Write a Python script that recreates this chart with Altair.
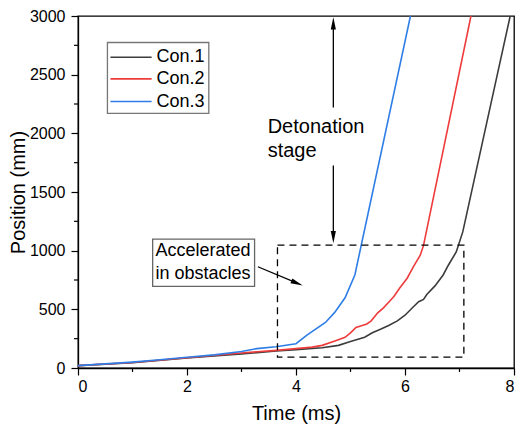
import altair as alt
import pandas as pd

# ---- data ----
series_names = ["Con.1", "Con.2", "Con.3"]
colors = ["#3c3c3c", "#ee3b3b", "#2f7ee6"]

con1_t = [0, 1, 2, 3, 3.64, 4.0, 4.48, 4.78, 5.0, 5.26, 5.4, 5.56, 5.7, 5.86, 6.0, 6.15, 6.25, 6.34, 6.4, 6.55, 6.7, 6.8, 6.94, 7.06, 7.93]
con1_y = [20, 45, 85, 120, 145, 157, 173, 193, 225, 262, 300, 332, 362, 402, 450, 520, 565, 584, 626, 700, 793, 880, 989, 1160, 3000]

con2_t = [0, 1, 2, 3, 3.64, 4.0, 4.3, 4.48, 4.7, 4.9, 5.0, 5.1, 5.2, 5.3, 5.38, 5.5, 5.6, 5.7, 5.8, 5.9, 6.04, 6.15, 6.28, 6.34, 7.21]
con2_y = [20, 47, 88, 128, 150, 165, 178, 193, 228, 262, 300, 345, 360, 375, 402, 470, 510, 560, 612, 680, 765, 860, 961, 1045, 3000]

con3_t = [0, 0.5, 1, 1.5, 2, 2.5, 3, 3.28, 3.63, 4.0, 4.2, 4.54, 4.71, 4.9, 5.08, 6.1]
con3_y = [20, 35, 50, 70, 92, 112, 140, 165, 181, 207, 280, 388, 474, 598, 793, 3000]

x_major = [0, 2, 4, 6, 8]
x_minor = [1, 3, 5, 7]
y_major = [0, 500, 1000, 1500, 2000, 2500, 3000]
y_minor = [250, 750, 1250, 1750, 2250, 2750]

FONT = "Liberation Sans"
W, H = 436, 352

rows = []
for name, ts, ys in zip(series_names, [con1_t, con2_t, con3_t], [con1_y, con2_y, con3_y]):
    for t, y in zip(ts, ys):
        rows.append({"t": t, "y": y, "series": name})
df = pd.DataFrame(rows)

xscale = alt.Scale(domain=[0, 8], nice=False, zero=False)
yscale = alt.Scale(domain=[0, 3000], nice=False)

lines = alt.Chart(df).mark_line(strokeWidth=1.6, clip=True).encode(
    x=alt.X("t:Q", scale=xscale,
            axis=alt.Axis(values=x_major, title="Time (ms)", tickSize=7, labelPadding=3,
                          titlePadding=9, grid=False, format="d", titleFontSize=20)),
    y=alt.Y("y:Q", scale=yscale,
            axis=alt.Axis(values=y_major, title="Position (mm)", tickSize=7, labelPadding=6,
                          titlePadding=1, grid=False, format="d", titleFontSize=20)),
    color=alt.Color("series:N", scale=alt.Scale(domain=series_names, range=colors), legend=None),
    order=alt.Order("t:Q"),
)

minor_x = alt.Chart(pd.DataFrame({"t": x_minor})).mark_rule(color="black", strokeWidth=1.2).encode(
    x=alt.X("t:Q", scale=xscale), y=alt.value(H), y2=alt.value(H + 4))
minor_y = alt.Chart(pd.DataFrame({"y": y_minor})).mark_rule(color="black", strokeWidth=1.2).encode(
    y=alt.Y("y:Q", scale=yscale), x=alt.value(0), x2=alt.value(-4))


def pos(**kw):
    return pd.DataFrame({k: [v] for k, v in kw.items()})


def seg(t1, v1, t2, v2, color="black", width=1.3, dash=None):
    kw = dict(color=color, strokeWidth=width)
    if dash:
        kw["strokeDash"] = dash
    return alt.Chart(pos(t1=t1, v1=v1, t2=t2, v2=v2)).mark_rule(**kw).encode(
        x=alt.X("t1:Q", scale=xscale), y=alt.Y("v1:Q", scale=yscale), x2="t2:Q", y2="v2:Q")


def head(t, v, path, angle=0):
    return alt.Chart(pos(t=t, v=v)).mark_point(shape=path, filled=True, color="black", size=150,
                                               angle=angle, opacity=1, strokeWidth=0).encode(
        x=alt.X("t:Q", scale=xscale), y=alt.Y("v:Q", scale=yscale))


def label(t, v, s, size):
    return alt.Chart(pos(t=t, v=v)).mark_text(align="left", baseline="middle", fontSize=size,
                                              font=FONT, color="black", text=s).encode(
        x=alt.X("t:Q", scale=xscale), y=alt.Y("v:Q", scale=yscale))


def box(t1, v1, t2, v2, stroke="#666666", fill="white", dash=None, width=1.3):
    kw = dict(fill=fill, stroke=stroke, strokeWidth=width)
    if dash:
        kw["strokeDash"] = dash
        kw["fillOpacity"] = 0
    return alt.Chart(pos(t1=t1, v1=v1, t2=t2, v2=v2)).mark_rect(**kw).encode(
        x=alt.X("t1:Q", scale=xscale), y=alt.Y("v1:Q", scale=yscale), x2="t2:Q", y2="v2:Q")


UP = "M0,-1L0.42,1L-0.42,1Z"
DOWN = "M0,1L0.42,-1L-0.42,-1Z"
RIGHT = "M1,0L-1,0.42L-1,-0.42Z"

annotations = [
    # dashed region
    box(3.66, 1048, 7.08, 92, stroke="black", fill="white", dash=[7, 5], width=1.3),
    # detonation stage arrows
    seg(4.685, 2221, 4.685, 2930), head(4.685, 2938, UP),
    seg(4.685, 1726, 4.685, 1120), head(4.685, 1115, DOWN),
    label(3.48, 2055, "Detonation", 20), label(3.48, 1850, "stage", 20),
    # accelerated box + arrow
    box(1.37, 1098, 3.24, 696),
    label(1.42, 997, "Accelerated", 18), label(1.42, 804, "in obstacles", 18),
    seg(3.30, 863, 4.02, 723), head(4.02, 723, RIGHT, angle=22),
    # legend
    box(0.54, 2774, 2.40, 2170, stroke="#777777"),
]
for name, c, v in zip(series_names, colors, [2648, 2464, 2271]):
    annotations.append(seg(0.595, v, 1.351, v, color=c, width=1.6))
    annotations.append(label(1.44, v, name, 18))

chart = alt.layer(lines, minor_x, minor_y, *annotations).properties(
    width=W, height=H,
    autosize=alt.AutoSizeParams(type="none"),
    padding={"left": 70, "top": 8, "right": 5, "bottom": 56},
).configure_view(stroke="black", strokeWidth=1.3).configure_axis(
    labelFont=FONT, titleFont=FONT, labelFontSize=16,
    labelColor="black", titleColor="black", domainColor="black", tickColor="black",
    titleFontWeight="normal", domainWidth=1.3, tickWidth=1.2,
)

chart.save("out.html", embed_options={"renderer": "svg", "actions": False})
